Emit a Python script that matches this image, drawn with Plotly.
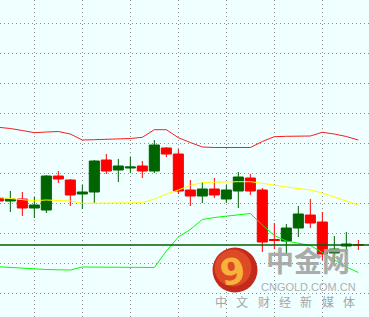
import plotly.graph_objects as go

# ---- data (prices) ----
idx = list(range(31))
opens  = [1309.53, 1309.23, 1309.43, 1308.53, 1308.33, 1311.73, 1311.33, 1309.93, 1310.13, 1313.33,
          1312.33, 1312.53, 1312.73, 1312.23, 1314.53, 1313.93, 1310.33, 1309.73, 1310.43, 1309.43,
          1310.23, 1311.53, 1310.33, 1305.38, 1305.23, 1306.53, 1307.83, 1307.13, 1304.03, 1304.73,
          1304.88]
highs  = [1309.63, 1310.23, 1310.13, 1309.63, 1311.83, 1312.23, 1311.43, 1310.83, 1313.33, 1313.93,
          1313.43, 1313.63, 1313.23, 1315.33, 1314.63, 1314.43, 1311.33, 1311.13, 1311.53, 1310.83,
          1312.13, 1311.93, 1310.53, 1307.03, 1306.93, 1308.73, 1309.43, 1308.13, 1305.73, 1306.13,
          1305.33]
lows   = [1309.13, 1308.13, 1307.73, 1307.53, 1308.03, 1311.03, 1308.73, 1308.43, 1309.03, 1311.93,
          1311.13, 1312.03, 1311.53, 1312.03, 1313.63, 1309.93, 1308.73, 1309.03, 1309.53, 1309.03,
          1308.53, 1309.83, 1304.13, 1304.43, 1303.83, 1305.63, 1306.53, 1303.33, 1303.13, 1303.83,
          1304.33]
closes = [1309.23, 1309.43, 1308.53, 1308.83, 1311.73, 1311.43, 1309.83, 1310.13, 1313.23, 1312.23,
          1312.73, 1312.63, 1312.23, 1314.83, 1313.93, 1310.23, 1309.73, 1310.43, 1309.83, 1310.33,
          1311.63, 1310.23, 1305.13, 1305.28, 1306.53, 1307.93, 1307.03, 1303.93, 1304.43, 1304.93,
          1304.83]
upper  = [1316.60, 1316.48, 1316.28, 1316.06, 1316.13, 1316.18, 1315.93, 1315.33, 1315.36, 1315.40,
          1315.43, 1315.48, 1315.60, 1316.36, 1316.36, 1315.56, 1315.08, 1314.63, 1314.58, 1314.56,
          1314.56, 1314.58, 1315.18, 1315.66, 1315.70, 1315.73, 1315.73, 1316.10, 1315.93, 1315.68,
          1315.33]
middle = [1309.58, 1309.46, 1309.36, 1309.26, 1309.33, 1309.30, 1309.23, 1309.00, 1309.00, 1309.01,
          1309.03, 1309.05, 1309.06, 1309.43, 1309.93, 1310.33, 1310.78, 1311.08, 1311.13, 1311.16,
          1311.16, 1311.16, 1311.03, 1310.83, 1310.63, 1310.48, 1310.33, 1310.03, 1309.63, 1309.23,
          1308.83]
lower  = [1302.66, 1302.58, 1302.48, 1302.40, 1302.38, 1302.35, 1302.33, 1302.63, 1302.61, 1302.60,
          1302.59, 1302.58, 1302.56, 1302.58, 1304.23, 1305.63, 1306.38, 1307.38, 1307.58, 1307.73,
          1307.83, 1307.98, 1306.83, 1305.78, 1305.23, 1305.03, 1304.78, 1304.08, 1303.33, 1302.63,
          1302.08]
brand = "中金网"
brand_url = "CNGOLD.COM.CN"
slogan = ["中", "文", "财", "经", "新", "媒", "体"]

W, H = 369, 317
fig = go.Figure()

for vals, col in [(upper, "#FF1A1A"), (middle, "#FFFF00"), (lower, "#00FF00")]:
    fig.add_trace(go.Scatter(x=idx, y=vals, mode="lines", line=dict(color=col, width=1),
                             showlegend=False, hoverinfo="skip"))

fig.add_trace(go.Candlestick(
    x=idx, open=opens, high=highs, low=lows, close=closes,
    increasing=dict(line=dict(color="#006400", width=1), fillcolor="#006400"),
    decreasing=dict(line=dict(color="#FF0000", width=1), fillcolor="#FF0000"),
    whiskerwidth=0, showlegend=False, hoverinfo="skip"))

# current price line
fig.add_shape(type="line", xref="paper", x0=0, x1=1, yref="y", y0=closes[-1], y1=closes[-1],
              line=dict(color="#006000", width=1.3), layer="above")

# watermark logo
cx, cy, r = 235, 270, 22.5
def px(x): return x / W
def py(y): return 1 - y / H
fig.add_shape(type="circle", xref="paper", yref="paper",
              x0=px(cx - r), x1=px(cx + r), y0=py(cy + r), y1=py(cy - r),
              fillcolor="#C42A1C", line=dict(width=0), layer="above")
fig.add_shape(type="circle", xref="paper", yref="paper",
              x0=px(cx - r + 2), x1=px(cx + r - 6), y0=py(cy + r - 6), y1=py(cy - r + 2),
              fillcolor="#DE4A26", line=dict(width=0), layer="above")
fig.add_annotation(x=px(cx - 3), y=py(cy + 1), xref="paper", yref="paper", text="<b>9</b>",
                   showarrow=False, font=dict(family="DejaVu Sans", size=36, color="#F6B23A"),
                   textangle=-10, xanchor="center", yanchor="middle")

fig.add_annotation(x=px(308), y=py(259.5), xref="paper", yref="paper", text="<b>" + brand + "</b>",
                   showarrow=False, font=dict(family="Noto Sans CJK SC", size=28, color="#A3A3A3"),
                   xanchor="center", yanchor="middle", opacity=0.9)
fig.add_annotation(x=px(308), y=py(287), xref="paper", yref="paper", text=brand_url,
                   showarrow=False, font=dict(family="Liberation Sans", size=11, color="#A8A8A8"),
                   xanchor="center", yanchor="middle", opacity=0.9)
for i, ch in enumerate(slogan):
    fig.add_annotation(x=px(221 + 21.3 * i), y=py(301), xref="paper", yref="paper", text=ch,
                       showarrow=False, font=dict(family="Noto Sans CJK SC", size=12, color="#9C9C9C"),
                       xanchor="center", yanchor="middle", opacity=0.9)

fig.update_layout(
    width=W, height=H, margin=dict(l=0, r=0, t=0, b=0),
    paper_bgcolor="#F0FFFF", plot_bgcolor="#F0FFFF",
    boxgap=0.16, boxgroupgap=0,
    xaxis=dict(range=[0.139, 30.889], showticklabels=False, zeroline=False, showline=False,
               rangeslider=dict(visible=False), showgrid=True, tick0=3, dtick=4,
               gridcolor="#8C8C8C", griddash="1px,3px", gridwidth=1, ticks=""),
    yaxis=dict(range=[1297.63, 1329.33], showticklabels=False, zeroline=False, showline=False,
               showgrid=True, tick0=1300, dtick=3, gridcolor="#8C8C8C", griddash="1px,3px",
               gridwidth=1, ticks=""),
)

fig.write_html("out.html")
